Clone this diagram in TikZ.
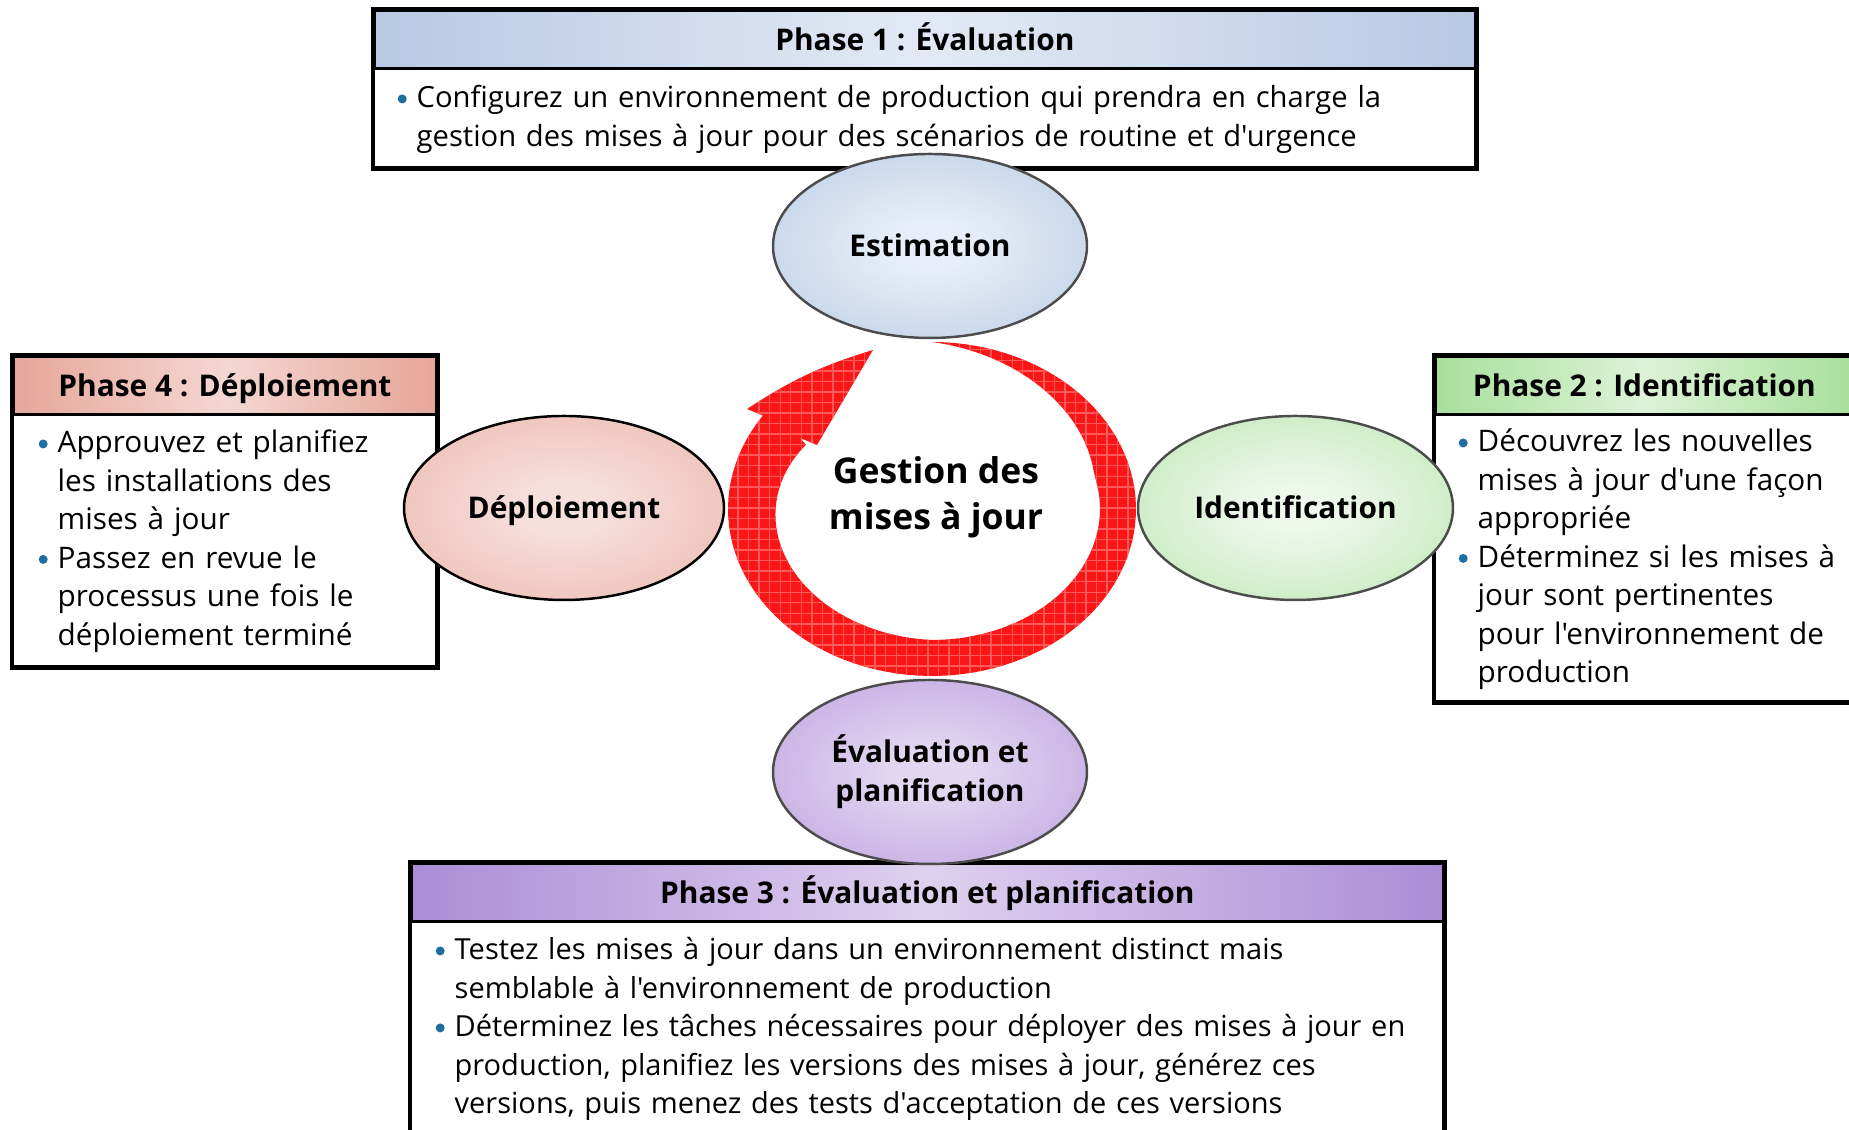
\documentclass[tikz,border=0pt]{standalone}
\usepackage{fontspec}
\setmainfont{Open Sans}[Ligatures=TeXOff]
\usetikzlibrary{positioning,shapes.geometric,patterns}

\definecolor{bleuC}{RGB}{184,201,228}
\definecolor{bleuE}{RGB}{163,189,222}
\definecolor{rougeC}{RGB}{230,166,153}
\definecolor{vertC}{RGB}{168,223,155}
\definecolor{violetC}{RGB}{172,140,214}
\definecolor{puce}{RGB}{31,110,160}
\definecolor{fleche}{RGB}{250,22,22}

\pgfdeclareradialshading[ellin,ellout]{ellshade}{\pgfpoint{0bp}{0bp}}{color(0bp)=(ellin); color(6bp)=(ellin); color(50bp)=(ellout)}

% un point de liste, avec retrait suspendu
\newcommand\puce[1]{{\hangindent=1.9mm\hangafter=1\noindent
  \makebox[1.9mm][l]{\tikz[baseline=0pt]\fill[puce] (0.045,0.09) circle (0.045);}#1\par}}

\tikzset{
  entete/.style={draw=black, line width=0.8pt, minimum height=5.8mm, inner sep=0pt,
    text height=2.6mm, text depth=0.45mm,
    anchor=north west, font=\fontsize{8.5}{10}\selectfont\bfseries},
  corpsbox/.style={fill=white, inner sep=0pt, below=0pt of #1},
  corps/.style={inner sep=0pt, anchor=base west, align=left, text width=13cm,
    font=\fontsize{8.45}{10.95}\selectfont},
  cadre/.style={draw=black, line width=1.4pt},
  couleurs/.code 2 args={\colorlet{ellin}{#1}\colorlet{ellout}{#2}},
  etape/.style={ellipse, draw=black!70, line width=0.7pt, minimum width=3.14cm,
    minimum height=1.84cm, inner sep=0pt, align=center, shading=ellshade,
    font=\fontsize{8.5}{11.2}\selectfont\bfseries},
  uneligne/.style={text height=2.6mm, text depth=0.45mm},
  declare function={larg(\t)=0.36*min(1,(90-\t)/75)+0.16*max(0,(-90-\t)/124);}
}

\begin{document}
\begin{tikzpicture}
  \useasboundingbox (0,0) rectangle (18.49,11.30);

  % phase 1 (haut)
  \node[entete, minimum width=11.01cm, left color=bleuC, right color=bleuC,
    middle color=bleuC!40!white] (ph1h) at (3.73,11.21) {Phase 1 : Évaluation};
  \node[corpsbox=ph1h, minimum width=11.01cm, minimum height=9.7mm] (ph1c) {};
  \draw[cadre] (ph1h.north west) rectangle (ph1c.south east);
  \node[corps, font=\fontsize{8.3}{10.95}\selectfont] (ph1t) at (3.97,10.22) {\puce{Configurez un environnement de production qui prendra en charge la\newline
    gestion des mises à jour pour des scénarios de routine et d'urgence}};

  % phase 4 (gauche)
  \node[entete, minimum width=4.23cm, left color=rougeC, right color=rougeC,
    middle color=rougeC!45!white] (ph4h) at (0.12,7.75) {Phase 4 : Déploiement};
  \node[corpsbox=ph4h, minimum width=4.23cm, minimum height=25mm] (ph4c) {};
  \draw[cadre] (ph4h.north west) rectangle (ph4c.south east);
  \node[corps] (ph4t) at (0.38,6.77) {\puce{Approuvez et planifiez\newline
    les installations des\newline mises à jour}
    \puce{Passez en revue le\newline processus une fois le\newline déploiement terminé}};

  % phase 2 (droite)
  \node[entete, minimum width=4.18cm, left color=vertC, right color=vertC,
    middle color=vertC!40!white] (ph2h) at (14.34,7.75) {Phase 2 : Identification};
  \node[corpsbox=ph2h, minimum width=4.18cm, minimum height=28.5mm] (ph2c) {};
  \draw[cadre] (ph2h.north west) rectangle (ph2c.south east);
  \node[corps] (ph2t) at (14.58,6.78) {\puce{Découvrez les nouvelles\newline
    mises à jour d'une façon\newline appropriée}
    \puce{Déterminez si les mises à\newline jour sont pertinentes\newline
    pour l'environnement de\newline production}};

  % phase 3 (bas)
  \node[entete, minimum width=10.32cm, left color=violetC, right color=violetC,
    middle color=violetC!40!white] (ph3h) at (4.10,2.68) {Phase 3 : Évaluation et planification};
  \node[corpsbox=ph3h, minimum width=10.32cm, minimum height=20.8mm] (ph3c) {};
  \draw[cadre] (ph3h.north west) rectangle (ph3c.south east);
  \node[corps, font=\fontsize{8.25}{10.95}\selectfont] (ph3t) at (4.35,1.70) {\puce{Testez les mises à jour dans un environnement distinct mais\newline
    semblable à l'environnement de production}
    \puce{Déterminez les tâches nécessaires pour déployer des mises à jour en\newline
    production, planifiez les versions des mises à jour, générez ces\newline
    versions, puis menez des tests d'acceptation de ces versions}};

  % etapes
  \node[etape, uneligne, couleurs={bleuE!25!white}{bleuE}] (estim) at (9.30,8.84) {Estimation};
  \node[etape, uneligne, draw=black, minimum width=3.20cm, couleurs={rougeC!35!white}{rougeC}] (deploi) at (5.64,6.22) {Déploiement};
  \node[etape, uneligne, minimum width=3.15cm, couleurs={vertC!20!white}{vertC}] (ident) at (12.955,6.22) {Identification};
  \node[etape, couleurs={violetC!35!white}{violetC}] (evalp) at (9.30,3.58) {Évaluation et\\planification};

  % fleche circulaire
  \fill[fleche, postaction={pattern=grid, pattern color=red!65!white}]
      plot[domain=90:-214, samples=100, variable=\t]
      ({9.32+2.04*cos(\t)},{6.21+1.67*sin(\t)})
    -- (7.47,7.21) to[bend left=8] (8.73,7.80) -- (8.17,6.85) -- (8.00,6.92)
    -- plot[domain=-214:90, samples=100, variable=\t]
      ({9.32+(2.04-larg(\t))*cos(\t)},{6.21+(1.67-larg(\t))*sin(\t)}) -- cycle;
  \node[font=\fontsize{10.1}{13.1}\selectfont\bfseries, align=center] (gestion) at (9.36,6.33) {Gestion des\\mises à jour};
\end{tikzpicture}
\end{document}
